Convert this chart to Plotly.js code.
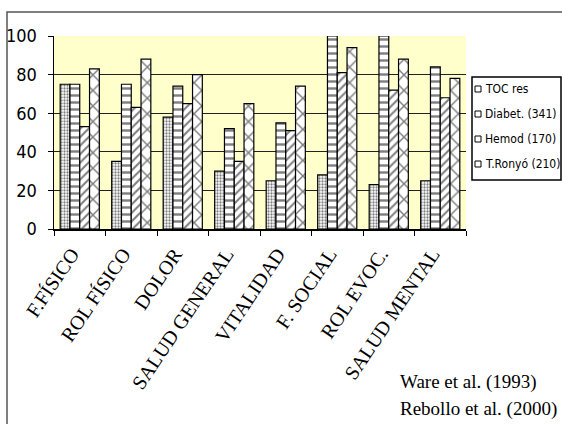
<!DOCTYPE html>
<html>
<head>
<meta charset="utf-8">
<script src="https://cdn.plot.ly/plotly-3.0.1.min.js"></script>
<style>html,body{margin:0;padding:0;background:#fff;}#chart{width:562px;height:424px;}</style>
</head>
<body>
<div id="chart"></div>
<script>
// ---- data ----
const categories = ["F.FÍSICO", "ROL FÍSICO", "DOLOR", "SALUD GENERAL", "VITALIDAD", "F. SOCIAL", "ROL EVOC.", "SALUD MENTAL"];
const seriesNames = ["TOC res", "Diabet. (341)", "Hemod (170)", "T.Ronyó (210)"];
const tocRes   = [75, 35, 58, 30, 25, 28, 23, 25];
const diabetes = [75, 75, 74, 52, 55, 100, 100, 84];
const hemod    = [53, 63, 65, 35, 51, 81, 72, 68];
const tRonyo   = [83, 88, 80, 65, 74, 94, 88, 78];
const yTicks = [0, 20, 40, 60, 80, 100];
const sourceNotes = ["Ware et al. (1993)", "Rebollo et al. (2000)"];

const allValues = [tocRes, diabetes, hemod, tRonyo];
const patterns = [
  {shape: ".", size: 3, solidity: 0.45},
  {shape: "-", size: 7, solidity: 0.35},
  {shape: "/", size: 6, solidity: 0.35},
  {shape: "x", size: 11, solidity: 0.25}
];

const traces = allValues.map((vals, i) => ({
  type: "bar",
  name: seriesNames[i],
  x: categories,
  y: vals,
  marker: {
    color: "#ffffff",
    line: {color: "#000000", width: 1.2},
    pattern: Object.assign({fgcolor: "#000000", bgcolor: "#ffffff", fillmode: "overlay"}, patterns[i])
  },
  showlegend: false,
  hoverinfo: "skip"
}));

// layout geometry (pixels)
const W = 562, H = 424;
const L = 54, R = 96, T = 36, B = 195;
const pw = W - L - R, ph = H - T - B;
const px = X => (X - L) / pw;
const py = Y => (H - B - Y) / ph;

const shapes = [];
const annotations = [];

// outer frame
shapes.push({type: "rect", xref: "paper", yref: "paper",
  x0: px(7), x1: px(600), y0: py(470), y1: py(12),
  line: {color: "#555555", width: 1.5}, fillcolor: "rgba(0,0,0,0)", layer: "below"});

// custom legend box
shapes.push({type: "rect", xref: "paper", yref: "paper",
  x0: px(472), x1: px(561), y0: py(180), y1: py(77),
  line: {color: "#000000", width: 1.5}, fillcolor: "#ffffff"});
seriesNames.forEach((name, i) => {
  const yc = 89 + i * 25;
  shapes.push({type: "rect", xref: "paper", yref: "paper",
    x0: px(475), x1: px(481), y0: py(yc + 3), y1: py(yc - 3),
    line: {color: "#000000", width: 1}, fillcolor: "#ffffff"});
  annotations.push({xref: "paper", yref: "paper", x: px(483), y: py(yc),
    xanchor: "left", yanchor: "middle", showarrow: false, text: name,
    font: {family: "DejaVu Sans Condensed", size: 12, color: "#000"}});
});

// source notes
sourceNotes.forEach((t, i) => {
  annotations.push({xref: "paper", yref: "paper", x: px(398), y: py(382 + i * 27),
    xanchor: "left", yanchor: "middle", showarrow: false, text: t,
    font: {family: "Liberation Serif", size: 19, color: "#000"}});
});

const layout = {
  width: W, height: H,
  margin: {l: L, r: R, t: T, b: B, pad: 0},
  paper_bgcolor: "#ffffff",
  plot_bgcolor: "#ffffcc",
  barmode: "group",
  bargap: 0.24,
  bargroupgap: 0,
  showlegend: false,
  xaxis: {
    type: "category",
    showline: true, linecolor: "#000", linewidth: 1.5,
    ticks: "outside", tickson: "boundaries", ticklen: 5, tickcolor: "#000",
    tickangle: -56,
    ticklabelstandoff: 4,
    ticklabelshift: -8,
    tickfont: {family: "Liberation Serif", size: 20, color: "#000"},
    showgrid: false, zeroline: false, automargin: false
  },
  yaxis: {
    range: [0, 100],
    tickvals: yTicks,
    showline: true, linecolor: "#000", linewidth: 1.5,
    ticks: "outside", ticklen: 5, tickcolor: "#000",
    ticklabelstandoff: 7,
    tickfont: {family: "DejaVu Sans Condensed", size: 18, color: "#000"},
    showgrid: true, gridcolor: "#222222", gridwidth: 1.2,
    zeroline: false, automargin: false
  },
  shapes: shapes,
  annotations: annotations
};

Plotly.newPlot("chart", traces, layout, {staticPlot: true, displayModeBar: false});
</script>
</body>
</html>
